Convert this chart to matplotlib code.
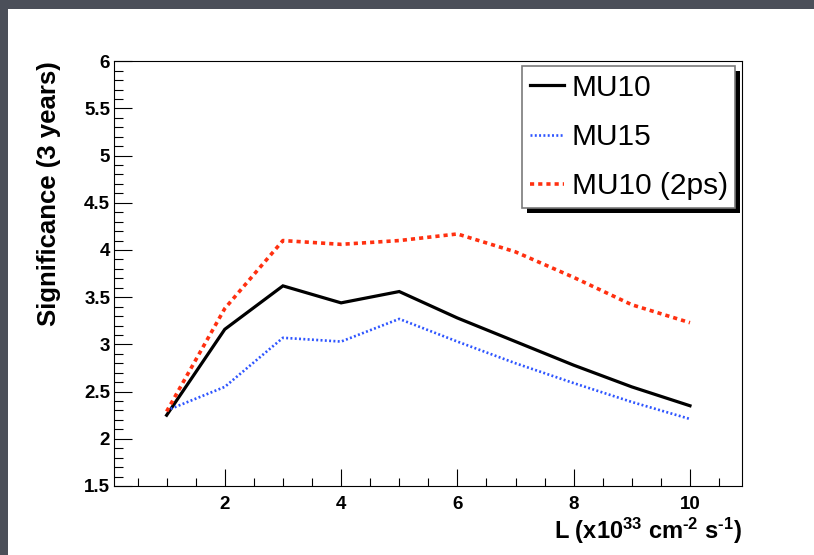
import matplotlib
matplotlib.use("Agg")
import matplotlib.pyplot as plt
from matplotlib.patches import Rectangle
from matplotlib.transforms import IdentityTransform
from matplotlib.ticker import MultipleLocator, FuncFormatter

# Luminosity points (x10^33 cm^-2 s^-1)
lumi = [1, 2, 3, 4, 5, 6, 7, 8, 9, 10]

# Expected significance after 3 years for each trigger configuration
sig_mu10 = [2.25, 3.16, 3.62, 3.44, 3.56, 3.28, 3.03, 2.78, 2.55, 2.35]
sig_mu15 = [2.30, 2.55, 3.07, 3.03, 3.27, 3.03, 2.80, 2.59, 2.39, 2.21]
sig_mu10_2ps = [2.29, 3.38, 4.10, 4.06, 4.10, 4.17, 3.98, 3.71, 3.42, 3.23]

labels = ["MU10", "MU15", "MU10 (2ps)"]

plt.rcParams["font.family"] = ["Liberation Sans", "DejaVu Sans"]
plt.rcParams["mathtext.fontset"] = "custom"
plt.rcParams["mathtext.rm"] = "Liberation Sans:bold"
plt.rcParams["mathtext.it"] = "Liberation Sans:bold"
plt.rcParams["mathtext.bf"] = "Liberation Sans:bold"
plt.rcParams["lines.scale_dashes"] = False

W, H, DPI = 814, 555, 100
fig = plt.figure(figsize=(W / DPI, H / DPI), dpi=DPI)
fig.patch.set_facecolor("#4b4f59")

# white canvas on the dark slide background
fig.add_artist(Rectangle((8 / W, 0), 1 - 8 / W, 1 - 9 / H,
                         transform=fig.transFigure, facecolor="white",
                         edgecolor="none", zorder=-1))

left, right, bottom, top = 114.3, 742.3, 486.0, 61.2
ax = fig.add_axes([left / W, 1 - bottom / H, (right - left) / W, (bottom - top) / H])
ax.patch.set_visible(False)

ax.plot(lumi, sig_mu10, color="black", lw=2.3, solid_joinstyle="miter", label=labels[0])
ax.plot(lumi, sig_mu15, color="#2e55ff", lw=1.9, linestyle=(0, (1.4, 1.7)),
        dash_capstyle="butt", label=labels[1])
ax.plot(lumi, sig_mu10_2ps, color="#ff3010", lw=2.6, linestyle=(0, (3.0, 2.9)),
        dash_capstyle="butt", label=labels[2])

ax.set_xlim(0.1, 10.9)
ax.set_ylim(1.5, 6.0)

ax.xaxis.set_major_locator(MultipleLocator(2))
ax.xaxis.set_minor_locator(MultipleLocator(0.5))
ax.yaxis.set_major_locator(MultipleLocator(0.5))
ax.yaxis.set_minor_locator(MultipleLocator(0.1))

ax.yaxis.set_major_formatter(FuncFormatter(lambda v, p: f"{v:g}"))
ax.xaxis.set_major_formatter(FuncFormatter(lambda v, p: f"{v:g}"))

ax.tick_params(axis="both", which="both", direction="in", top=False, right=False,
               width=0.8, color="black")
ax.tick_params(axis="y", which="major", length=13, pad=3)
ax.tick_params(axis="y", which="minor", length=6.5)
ax.tick_params(axis="x", which="major", length=12.5, pad=7)
ax.tick_params(axis="x", which="minor", length=6)
for lab in ax.get_xticklabels() + ax.get_yticklabels():
    lab.set_fontsize(13.5)
    lab.set_fontweight("bold")
for sp in ax.spines.values():
    sp.set_linewidth(0.8)

ax.set_ylabel("Significance (3 years)", fontsize=18.5, fontweight="bold", loc="top",
              va="center")
ax.yaxis.set_label_coords((49 - left) / (right - left), 1.0)

ax.set_xlabel("L (x10$^{33}$ cm$^{\u20102}$ s$^{\u20101}$)", fontsize=17,
              fontweight="bold", loc="right", va="baseline")
ax.xaxis.set_label_coords(1.0, -(539 - bottom) / (bottom - top))

leg = ax.legend(loc="upper left", bbox_to_anchor=(522 / W, 1 - 66 / H),
                bbox_transform=fig.transFigure, borderaxespad=0,
                fontsize=21.5, frameon=True, fancybox=False, handlelength=1.15,
                handletextpad=0.25, borderpad=0.26, labelspacing=0.71)
leg.get_frame().set_edgecolor("#7a7a7a")
leg.get_frame().set_linewidth(1.2)
leg.get_frame().set_facecolor("white")
leg.get_frame().set_alpha(1)
leg.set_zorder(6)

# solid drop shadow behind the legend box
fig.canvas.draw()
bb = leg.get_window_extent()
shadow = Rectangle((bb.x0 + 5, bb.y0 - 5), bb.width, bb.height,
                   transform=IdentityTransform(), facecolor="black",
                   edgecolor="none", zorder=5.5, clip_on=False)
ax.add_artist(shadow)
shadow.set_clip_on(False)
shadow.set_clip_path(None)

fig.savefig("out.png", dpi=DPI, facecolor=fig.get_facecolor())
